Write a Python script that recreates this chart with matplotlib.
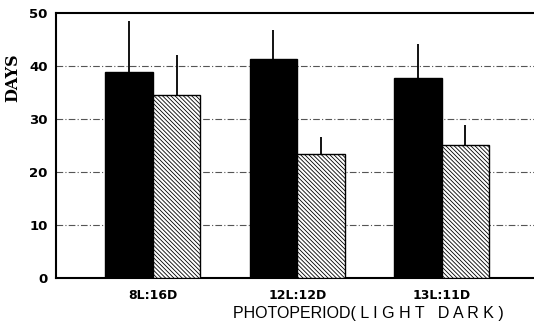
import numpy as np
import matplotlib
matplotlib.use("Agg")
import matplotlib.pyplot as plt

# ── Data ────────────────────────────────────────────────────────────────
groups = ["8L:16D", "12L:12D", "13L:11D"]
solid_mean = [38.8, 41.2, 37.7]
solid_err = [9.7, 5.5, 6.3]
hatched_mean = [34.4, 23.4, 25.0]
hatched_err = [7.6, 3.2, 3.8]

plt.rcParams["hatch.linewidth"] = 0.6

fig = plt.figure(figsize=(5.34, 3.25), dpi=100, facecolor="white")
ax = fig.add_axes([0.105, 0.146, 0.895, 0.815])

x = np.arange(len(groups))
w = 0.33

ax.bar(x - w / 2, solid_mean, w, color="black", edgecolor="black", zorder=3)
ax.bar(x + w / 2, hatched_mean, w, color="white", edgecolor="black",
       hatch="\\" * 8, linewidth=1.0, zorder=3)

# upper error bars only
ax.errorbar(x - w / 2, solid_mean, yerr=[np.zeros(3), solid_err], fmt="none",
            ecolor="black", elinewidth=1.3, capsize=0, zorder=2)
ax.errorbar(x + w / 2, hatched_mean, yerr=[np.zeros(3), hatched_err], fmt="none",
            ecolor="black", elinewidth=1.3, capsize=0, zorder=2)

ax.set_xlim(-0.67, 2.64)
ax.set_ylim(0, 50)
ax.set_yticks([0, 10, 20, 30, 40, 50])
ax.set_xticks(x)
ax.set_xticklabels(groups, fontsize=9, fontweight="bold")
ax.tick_params(axis="y", labelsize=9.5, length=0, pad=6)
ax.tick_params(axis="x", length=0, pad=8)
for lab in ax.get_yticklabels():
    lab.set_fontweight("bold")

for yv in [10, 20, 30, 40]:
    ax.axhline(yv, color="#555555", linewidth=0.8, linestyle=(0, (6, 2, 1, 2)), zorder=1)

ax.spines["right"].set_visible(False)
for s in ("left", "bottom", "top"):
    ax.spines[s].set_linewidth(1.5)

fig.text(0.024, 0.76, "DAYS", rotation=90, ha="center", va="center",
         fontsize=11.5, family="DejaVu Serif", fontweight="bold")
fig.text(0.69, 0.035, "PHOTOPERIOD( L I G H T   D A R K )", ha="center", va="center",
         fontsize=11.5, family="Liberation Sans")

fig.savefig("out.png", dpi=100, facecolor="white")
